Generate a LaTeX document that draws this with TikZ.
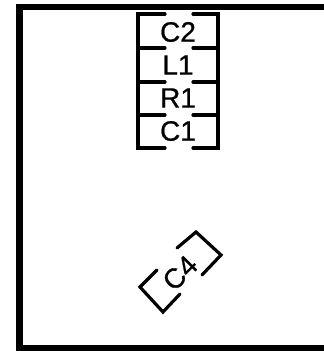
\documentclass[tikz,border=0pt]{standalone}
\usepackage{fontspec}
\newfontfamily\refdesfont[FakeBold=0.8]{Liberation Sans}
\usepackage{tikz}

\begin{document}
\begin{tikzpicture}[x=1pt, y=-1pt]
    \tikzstyle{frame} = [draw, line width=6.5pt]
    \tikzstyle{outline} = [draw, line width=3.2pt, line cap=round]
    \tikzstyle{refdes} = [inner sep=0pt, font=\fontsize{28}{28}\refdesfont]

    \useasboundingbox (0,0) rectangle (324,351);

    \draw[frame] (324,7) -- (19.5,7) -- (19.5,348) -- (324,348);

    \draw[outline] (165,14) -- (138,14) -- (138,48) -- (165,48);
    \draw[outline] (193,14) -- (218,14) -- (218,48) -- (193,48);
    \draw[outline] (138,48) -- (138,82) -- (165,82);
    \draw[outline] (218,48) -- (218,82) -- (193,82);
    \draw[outline] (138,82) -- (138,115) -- (165,115);
    \draw[outline] (218,82) -- (218,115) -- (193,115);
    \draw[outline] (138,115) -- (138,148) -- (165,148);
    \draw[outline] (218,115) -- (218,148) -- (193,148);

    \node[refdes] (labelC2) at (178,32) {C2};
    \node[refdes] (labelL1) at (178,65) {L1};
    \node[refdes] (labelR1) at (178,98) {R1};
    \node[refdes] (labelC1) at (178,131) {C1};

    \draw[outline] (157,270) -- (140,287) -- (163,312) -- (180,294);
    \draw[outline] (177,248) -- (196,232) -- (221,255) -- (202,275);

    \node[refdes, rotate=45] (labelC4) at (180,273) {C4};
\end{tikzpicture}
\end{document}
